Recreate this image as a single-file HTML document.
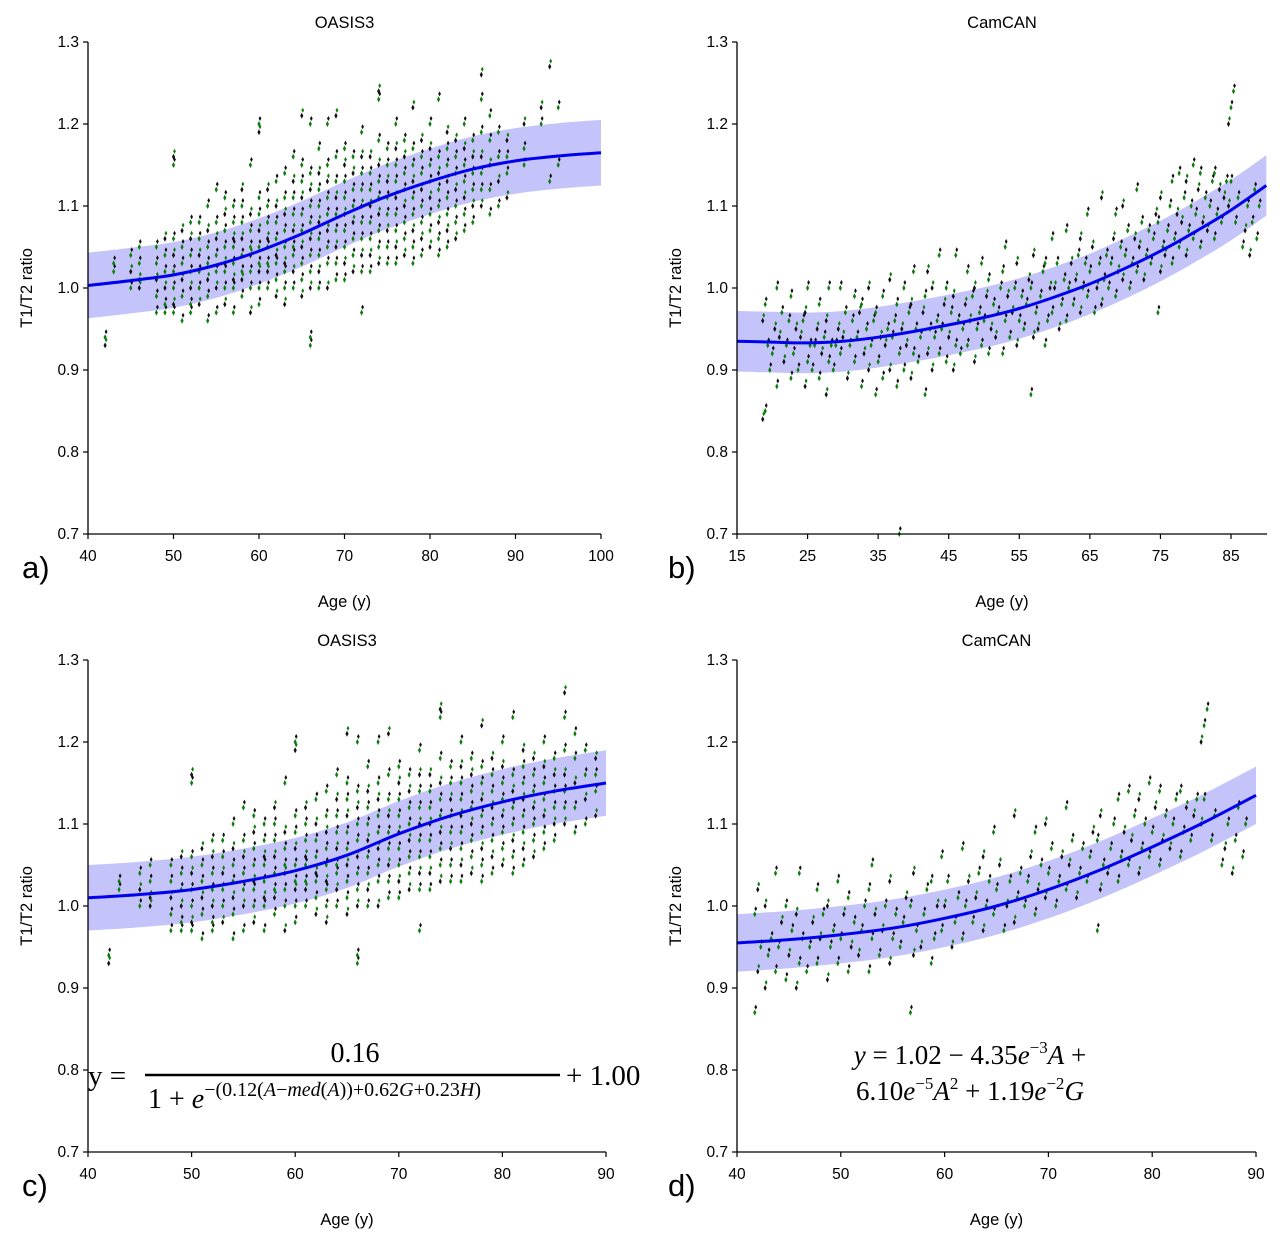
<!DOCTYPE html>
<html><head><meta charset="utf-8">
<style>
html,body{margin:0;padding:0;background:#fff;}
svg{display:block;font-family:"Liberation Sans","DejaVu Sans",sans-serif;}
.eq{font-family:"Liberation Serif","DejaVu Serif",serif;}
</style></head>
<body>
<svg id="fig" width="1281" height="1243" viewBox="0 0 1281 1243" xmlns="http://www.w3.org/2000/svg">
<text x="22" y="578" font-size="31">a)</text>
<text x="668" y="578" font-size="31">b)</text>
<text x="22" y="1196" font-size="31">c)</text>
<text x="668" y="1196" font-size="31">d)</text>
<g class="eq">
<text x="88" y="1085" font-size="29">y =</text>
<text x="355" y="1062" font-size="28" text-anchor="middle">0.16</text>
<line x1="145" y1="1075" x2="560" y2="1075" stroke="#000" stroke-width="2.5"/>
<text x="148" y="1108" font-size="28">1 + <tspan font-style="italic">e</tspan><tspan font-size="20" dy="-12">−(0.12(<tspan font-style="italic">A</tspan>−<tspan font-style="italic">med</tspan>(<tspan font-style="italic">A</tspan>))+0.62<tspan font-style="italic">G</tspan>+0.23<tspan font-style="italic">H</tspan>)</tspan></text>
<text x="566" y="1085" font-size="29">+ 1.00</text>
</g>
<g class="eq">
<text x="970" y="1064" font-size="27" text-anchor="middle"><tspan font-style="italic">y</tspan> = 1.02 − 4.35<tspan font-style="italic">e</tspan><tspan font-size="17" dy="-11">−3</tspan><tspan dy="11" font-style="italic">A</tspan> +</text>
<text x="970" y="1100" font-size="27" text-anchor="middle">6.10<tspan font-style="italic">e</tspan><tspan font-size="17" dy="-11">−5</tspan><tspan dy="11" font-style="italic">A</tspan><tspan font-size="17" dy="-11">2</tspan><tspan dy="11"> + 1.19</tspan><tspan font-style="italic">e</tspan><tspan font-size="17" dy="-11">−2</tspan><tspan dy="11" font-style="italic">G</tspan></text>
</g>
</svg>
<script>
// ---- data ----
const oasisAges = [42,43,45,46,48,49,50,51,52,53,54,55,56,57,58,59,60,61,62,63,64,65,66,67,68,69,70,71,72,73,74,75,76,77,78,79,80,81,82,83,84,85,86,87,88,89,91,93,94,95];
const oasisVals = [
[0.93,0.94],[1.02,1.03],[1.0,1.02,1.04],[1.01,1.03,1.05,1.0],[0.97,0.99,1.01,1.03,1.05],
[0.97,1.0,1.02,1.04,1.06,0.98],[0.98,1.0,1.02,1.04,1.06,1.15,1.16,0.97],[0.96,0.99,1.01,1.03,1.05,1.07],
[0.97,1.0,1.02,1.04,1.06,1.08,0.98],[0.98,1.0,1.02,1.04,1.06,1.08],[0.96,0.99,1.01,1.03,1.05,1.07,1.1],
[0.97,1.0,1.02,1.04,1.06,1.08,1.12],[0.98,1.0,1.02,1.03,1.05,1.07,1.09,1.11],[0.97,1.0,1.01,1.03,1.05,1.06,1.08,1.1],
[0.99,1.01,1.02,1.04,1.06,1.08,1.1,1.12],[0.97,1.0,1.02,1.04,1.05,1.07,1.09,1.15],
[0.98,1.0,1.02,1.03,1.05,1.07,1.09,1.11,1.19,1.2],[1.0,1.02,1.03,1.05,1.06,1.08,1.1,1.12],
[0.99,1.01,1.03,1.04,1.06,1.08,1.1,1.13],[1.0,1.02,1.03,1.05,1.07,1.09,1.11,1.14,0.98],
[1.0,1.02,1.04,1.05,1.07,1.09,1.11,1.13,1.16],[0.99,1.01,1.03,1.05,1.07,1.09,1.11,1.13,1.15,1.21],
[0.93,0.94,1.0,1.02,1.04,1.06,1.08,1.1,1.12,1.14,1.2],[1.0,1.02,1.04,1.06,1.08,1.1,1.12,1.14,1.17],
[1.0,1.03,1.05,1.07,1.09,1.11,1.13,1.15,1.2],[1.01,1.03,1.05,1.07,1.09,1.11,1.13,1.16,1.21],
[1.01,1.03,1.05,1.07,1.09,1.11,1.13,1.15,1.17],[1.02,1.04,1.06,1.08,1.1,1.12,1.14,1.16],
[0.97,1.02,1.04,1.06,1.08,1.1,1.12,1.14,1.16,1.19],[1.02,1.04,1.06,1.08,1.1,1.12,1.14,1.16],
[1.03,1.05,1.07,1.09,1.11,1.13,1.15,1.18,1.23,1.24],[1.03,1.05,1.07,1.09,1.11,1.13,1.15,1.17],
[1.03,1.05,1.07,1.09,1.11,1.13,1.15,1.17,1.2],[1.04,1.06,1.08,1.1,1.12,1.14,1.16,1.18],
[1.03,1.05,1.07,1.09,1.11,1.13,1.15,1.17,1.22],[1.04,1.06,1.08,1.1,1.12,1.14,1.16,1.18],
[1.05,1.07,1.09,1.11,1.13,1.15,1.17,1.2],[1.04,1.06,1.08,1.1,1.12,1.14,1.16,1.23],
[1.05,1.07,1.09,1.11,1.13,1.15,1.17,1.19],[1.06,1.08,1.1,1.12,1.14,1.16,1.18],
[1.07,1.09,1.11,1.13,1.15,1.17,1.2],[1.08,1.1,1.12,1.14,1.16,1.18],
[1.1,1.12,1.14,1.16,1.19,1.23,1.26],[1.09,1.12,1.15,1.18,1.21],[1.1,1.13,1.16,1.19],
[1.11,1.14,1.16,1.18],[1.15,1.17,1.2],[1.2,1.22],[1.27,1.13],[1.22,1.15]];
const camAges = [19,20,21,22,23,24,25,26,27,28,29,30,31,32,33,34,35,36,37,38,39,40,41,42,43,44,45,46,47,48,49,50,51,52,53,54,55,56,57,58,59,60,61,62,63,64,65,66,67,68,69,70,71,72,73,74,75,76,77,78,79,80,81,82,83,84,85,86,87,88,89];
const camVals = [
[0.84,0.85,0.93,0.96,0.98],[0.90,0.92,0.95],[0.88,0.94,0.97,1.0],[0.91,0.93,0.96],[0.89,0.92,0.95,0.99],
[0.90,0.94,0.96],[0.88,0.91,0.93,0.97,1.0],[0.90,0.93,0.95],[0.89,0.92,0.94,0.98],[0.87,0.91,0.93,0.96,1.0],
[0.90,0.93,0.95],[0.92,0.94,0.97,1.0],[0.89,0.93,0.96],[0.91,0.94,0.97,0.99],[0.88,0.92,0.95,0.98],
[0.90,0.93,0.96,1.0],[0.87,0.91,0.94,0.97],[0.89,0.93,0.95,0.99],[0.90,0.94,0.96,1.01],[0.88,0.92,0.95,0.98,0.70],
[0.90,0.93,0.97,1.0],[0.89,0.92,0.95,0.98,1.02],[0.91,0.94,0.97],[0.87,0.92,0.95,0.99,1.02],[0.90,0.94,0.96,1.0],
[0.92,0.95,0.98,1.04],[0.91,0.94,0.97,1.0],[0.90,0.93,0.96,0.99,1.04],[0.92,0.95,0.98],[0.93,0.96,0.99,1.02],
[0.91,0.95,0.97,1.0],[0.93,0.96,0.99,1.03],[0.92,0.95,0.98,1.01],[0.94,0.97,1.0],[0.92,0.96,0.99,1.02,1.05],
[0.94,0.97,1.0],[0.93,0.96,0.99,1.03],[0.95,0.98,1.01],[0.87,0.94,0.97,1.0,1.04],[0.95,0.99,1.02],
[0.93,0.96,1.0,1.03],[0.97,1.0,1.03,1.06],[0.95,0.98,1.01],[0.96,1.0,1.03,1.07],[0.98,1.01,1.04],
[0.97,1.0,1.03,1.06],[0.99,1.02,1.05,1.09],[0.97,1.0,1.03],[0.98,1.01,1.04,1.11],[1.0,1.03,1.06],
[0.99,1.02,1.05,1.09],[1.01,1.04,1.07,1.1],[1.0,1.03,1.06],[1.02,1.05,1.08,1.12],[1.01,1.04,1.07],
[1.03,1.06,1.09],[0.97,1.02,1.05,1.08,1.11],[1.04,1.07,1.1],[1.03,1.06,1.09,1.13],[1.05,1.08,1.11,1.14],
[1.04,1.07,1.1,1.13],[1.06,1.09,1.12,1.15],[1.05,1.08,1.11,1.14],[1.07,1.1,1.13],[1.06,1.09,1.12,1.14],
[1.08,1.11,1.13],[1.2,1.22,1.24,1.1,1.13],[1.08,1.11],[1.05,1.07,1.1],[1.04,1.08,1.12],[1.06,1.1]];
const curveAAges = [40,45,50,55,60,65,70,75,80,85,90,95,100];
const curveAVals = [1.003,1.009,1.016,1.028,1.045,1.066,1.09,1.112,1.13,1.145,1.155,1.161,1.165];
const curveBAges = [15,20,25,30,35,40,45,50,55,60,65,70,75,80,85,90];
const curveBVals = [0.935,0.934,0.933,0.935,0.94,0.947,0.955,0.964,0.975,0.989,1.005,1.024,1.045,1.069,1.095,1.125];
const curveCAges = [40,45,50,55,60,65,70,75,80,85,90];
const curveCVals = [1.01,1.014,1.02,1.03,1.043,1.062,1.088,1.11,1.127,1.14,1.15];
const curveDAges = [40,45,50,55,60,65,70,75,80,85,90];
const curveDVals = [0.955,0.959,0.965,0.973,0.985,1.0,1.02,1.044,1.072,1.102,1.135];
const yTicks = [0.7,0.8,0.9,1.0,1.1,1.2,1.3];
const xTicksA = [40,50,60,70,80,90,100];
const xTicksB = [15,25,35,45,55,65,75,85];
const xTicksCD = [40,50,60,70,80,90];

const NS = "http://www.w3.org/2000/svg";
const svg = document.getElementById('fig');
function mk(tag, attrs, parent){const e=document.createElementNS(NS,tag);for(const k in attrs)e.setAttribute(k,attrs[k]);(parent||svg).appendChild(e);return e;}

function smoothPath(pts){
  let d='M'+pts[0][0].toFixed(1)+','+pts[0][1].toFixed(1);
  for(let i=0;i<pts.length-1;i++){
    const p0=pts[Math.max(0,i-1)],p1=pts[i],p2=pts[i+1],p3=pts[Math.min(pts.length-1,i+2)];
    const c1=[p1[0]+(p2[0]-p0[0])/6,p1[1]+(p2[1]-p0[1])/6];
    const c2=[p2[0]-(p3[0]-p1[0])/6,p2[1]-(p3[1]-p1[1])/6];
    d+='C'+c1.map(v=>v.toFixed(1)).join(',')+' '+c2.map(v=>v.toFixed(1)).join(',')+' '+p2[0].toFixed(1)+','+p2[1].toFixed(1);
  }
  return d;
}

function panel(cfg){
  const g=mk('g',{});
  
  
  const xs=v=>cfg.x0+(v-cfg.xmin)/(cfg.xmax-cfg.xmin)*(cfg.x1-cfg.x0);
  const ys=v=>cfg.yb-(v-0.7)/0.6*(cfg.yb-cfg.yt);
  const up=cfg.cAges.map((a,i)=>[xs(a),ys(cfg.cVals[i]+cfg.band)]);
  const lo=cfg.cAges.map((a,i)=>[xs(a),ys(cfg.cVals[i]-cfg.band)]).reverse();
  const bandD=smoothPath(up)+'L'+smoothPath(lo).slice(1)+'Z';
  const band=mk('path',{d:bandD,fill:'#c4c4fb',stroke:'none'},g);
  
  
  const sg=mk('g',{},g);
  
  
  cfg.ages.forEach((a,i)=>{
    if(a<cfg.minAge||a>cfg.xmax) return;
    cfg.vals[i].forEach((v,j)=>{
      const off=cfg.jitter?((j%3)-1)*cfg.jitter:0;
      const x=xs(a)+off,y=ys(v);
      const col=(i+j)%3===0?'#111':'#0a7d0a';
      const p=mk('path',{d:`M${x},${y-3}L${x+1.6},${y}L${x},${y+3}L${x-1.6},${y}Z`,fill:col},sg);
      
      
      const p2=mk('path',{d:`M${x+1},${y-8}L${x+2.4},${y-5.5}L${x+1},${y-3}L${x-0.4},${y-5.5}Z`,fill:col==='#111'?'#0a7d0a':'#111'},sg);
      
      
    });
  });
  const line=mk('path',{d:smoothPath(cfg.cAges.map((a,i)=>[xs(a),ys(cfg.cVals[i])])),fill:'none',stroke:'#0000ee','stroke-width':3},g);
  
  
  const ax=mk('path',{d:`M${cfg.x0},${cfg.yt}V${cfg.yb}H${cfg.x1}`,fill:'none',stroke:'#000','stroke-width':1.3},g);
  
  
  yTicks.forEach(t=>{
    mk('line',{x1:cfg.x0-5,x2:cfg.x0,y1:ys(t),y2:ys(t),stroke:'#000','stroke-width':1.2},g);
    const tx=mk('text',{x:cfg.x0-9,y:ys(t)+5,'font-size':15.5,'text-anchor':'end'},g);
    tx.textContent=t.toFixed(1);
    
    
  });
  cfg.xt.forEach(t=>{
    mk('line',{x1:xs(t),x2:xs(t),y1:cfg.yb,y2:cfg.yb+5,stroke:'#000','stroke-width':1.2},g);
    const tx=mk('text',{x:xs(t),y:cfg.yb+27,'font-size':15.5,'text-anchor':'middle'},g);
    tx.textContent=t;
    
    
  });
  const mid=(cfg.x0+cfg.x1)/2;
  const ti=mk('text',{x:mid,y:cfg.yt-14,'font-size':16.5,'text-anchor':'middle'},g);
  ti.textContent=cfg.title;
  
  
  const xl=mk('text',{x:mid,y:cfg.yb+73,'font-size':16.5,'text-anchor':'middle'},g);
  xl.textContent='Age (y)';
  
  
  const cy=(cfg.yt+cfg.yb)/2;
  const yl=mk('text',{x:cfg.x0-56,y:cy,'font-size':16.5,'text-anchor':'middle',transform:`rotate(-90 ${cfg.x0-56} ${cy})`},g);
  yl.textContent='T1/T2 ratio';
  
  
  svg.insertBefore(g, svg.firstChild);
}
panel({name:'panel-a-oasis3',title:'OASIS3',x0:88,x1:601,xmin:40,xmax:100,minAge:40,yt:42,yb:534,ages:oasisAges,vals:oasisVals,cAges:curveAAges,cVals:curveAVals,band:0.04,xt:xTicksA,jitter:0});
panel({name:'panel-b-camcan',title:'CamCAN',x0:737,x1:1267,xmin:15,xmax:90.1,minAge:15,yt:42,yb:534,ages:camAges,vals:camVals,cAges:curveBAges,cVals:curveBVals,band:0.037,xt:xTicksB,jitter:2.5});
panel({name:'panel-c-oasis3',title:'OASIS3',x0:88,x1:606,xmin:40,xmax:90,minAge:40,yt:660,yb:1152,ages:oasisAges,vals:oasisVals,cAges:curveCAges,cVals:curveCVals,band:0.04,xt:xTicksCD,jitter:0});
panel({name:'panel-d-camcan',title:'CamCAN',x0:737,x1:1256,xmin:40,xmax:90,minAge:42,yt:660,yb:1152,ages:camAges,vals:camVals,cAges:curveDAges,cVals:curveDVals,band:0.035,xt:xTicksCD,jitter:3});
</script>
</body></html>
